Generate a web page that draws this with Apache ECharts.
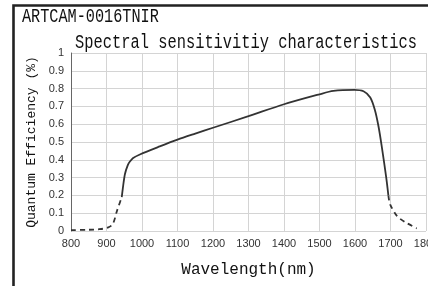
<!DOCTYPE html>
<html>
<head>
<meta charset="utf-8">
<script src="https://cdn.jsdelivr.net/npm/echarts@6/dist/echarts.min.js"></script>
<style>
  html, body { margin: 0; padding: 0; background: #fff; }
  #main { width: 428px; height: 286px; }
</style>
</head>
<body>
<div id="main"></div>
<script>
// values (wavelength nm, quantum efficiency)
var dashedLow = [[800, 0.005], [850, 0.007], [880, 0.01], [905, 0.02], [918, 0.04], [929, 0.11], [943, 0.19]];
var solidPart = [[943, 0.19], [946, 0.24], [952, 0.32], [960, 0.37], [966, 0.39], [975, 0.41], [994, 0.43],
  [1050, 0.475], [1100, 0.513], [1150, 0.547], [1200, 0.58], [1300, 0.645], [1400, 0.712], [1500, 0.768],
  [1539, 0.787], [1598, 0.793], [1624, 0.785], [1643, 0.75], [1656, 0.68], [1666, 0.59],
  [1675, 0.48], [1688, 0.30], [1694, 0.2]];
var dashedHigh = [[1694, 0.2], [1699, 0.15], [1718, 0.085], [1741, 0.05], [1774, 0.015]];
var xTicks = [800, 900, 1000, 1100, 1200, 1300, 1400, 1500, 1600, 1700, 1800];
var yTicks = [0, 0.1, 0.2, 0.3, 0.4, 0.5, 0.6, 0.7, 0.8, 0.9, 1];

var chart = echarts.init(document.getElementById('main'));
var mono = '"Liberation Mono", "DejaVu Sans Mono", monospace';
var lineCol = '#333';

chart.setOption({
  animation: false,
  grid: { left: 71, right: 2, top: 53, bottom: 55, outerBoundsMode: 'none', containLabel: false },
  xAxis: {
    type: 'value', min: xTicks[0], max: xTicks[xTicks.length - 1], interval: 100,
    axisLine: { show: false }, axisTick: { show: false },
    axisLabel: { color: '#333', fontSize: 11, fontFamily: '"Liberation Sans", Arial', margin: 7,
      formatter: function (v) { return String(v); } },
    splitLine: { lineStyle: { color: '#d4d4d4', width: 1 } },
    name: 'Wavelength(nm)', nameLocation: 'middle', nameGap: 31,
    nameTextStyle: { color: '#111', fontSize: 16, fontFamily: mono }
  },
  yAxis: {
    type: 'value', min: yTicks[0], max: yTicks[yTicks.length - 1], interval: 0.1,
    axisLine: { show: true, lineStyle: { color: '#666', width: 1 } },
    axisTick: { show: false },
    axisLabel: { color: '#333', fontSize: 11, fontFamily: '"Liberation Sans", Arial', margin: 7 },
    splitLine: { lineStyle: { color: '#d4d4d4', width: 1 } },
    name: 'Quantum Efficiency (%)', nameLocation: 'middle', nameGap: 33, nameRotate: 90,
    nameTextStyle: { color: '#111', fontSize: 13, fontFamily: mono }
  },
  graphic: [
    { type: 'rect', shape: { x: 13.5, y: 5.5, width: 700, height: 700 },
      style: { fill: 'none', stroke: '#222', lineWidth: 2.6 }, silent: true },
    { type: 'text', x: 22, y: 17, scaleX: 0.76,
      style: { text: 'ARTCAM-0016TNIR', font: '20px ' + mono, fill: '#111', textVerticalAlign: 'middle' } },
    { type: 'text', x: 75, y: 43, scaleX: 0.77,
      style: { text: 'Spectral sensitivitiy characteristics', font: '20px ' + mono, fill: '#111', textVerticalAlign: 'middle' } }
  ],
  series: [
    { type: 'line', data: dashedLow, smooth: 0.3, symbol: 'none',
      lineStyle: { color: lineCol, width: 1.8, type: [5, 4] } },
    { type: 'line', data: solidPart, smooth: 0.3, symbol: 'none',
      lineStyle: { color: lineCol, width: 1.8 } },
    { type: 'line', data: dashedHigh, smooth: 0.3, symbol: 'none',
      lineStyle: { color: lineCol, width: 1.8, type: [5, 4] } }
  ]
});
</script>
</body>
</html>
